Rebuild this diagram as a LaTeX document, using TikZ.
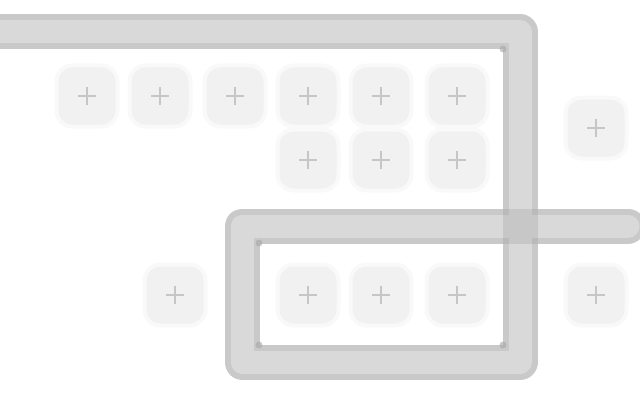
\documentclass[tikz,border=0pt]{standalone}
\usepackage{tikz}

\tikzset{
    tile/.style={rectangle, rounded corners=16pt, minimum size=61pt, inner sep=0pt,
        fill=gray!11, draw=gray!5, line width=4pt,
        path picture={
            \draw[gray!45, line width=1.4pt]
                ([xshift=-9pt]path picture bounding box.center) -- ([xshift=9pt]path picture bounding box.center)
                ([yshift=-9pt]path picture bounding box.center) -- ([yshift=9pt]path picture bounding box.center);
        }},
    rail/.style={line width=35pt, draw=gray!42, line cap=round, line join=round},
    railcore/.style={line width=23pt, draw=gray!30, line cap=round, line join=round},
    crossbox/.style={rectangle, minimum size=35pt, inner sep=0pt, fill=gray, opacity=0.2},
    nick/.style={circle, minimum size=7pt, inner sep=0pt, fill=gray!70, opacity=0.6},
}

\begin{document}
\begin{tikzpicture}[x=1pt, y=-1pt]
        \useasboundingbox (0,0) rectangle (640,420);

        \coordinate (w) at (-10,32);
        \coordinate (ne) at (520,32);
        \coordinate (se) at (520,362);
        \coordinate (sw) at (242,362);
        \coordinate (nw) at (242,226);
        \coordinate (e) at (628,226);

        \draw[rail] (w) -- (ne) -- (se) -- (sw) -- (nw) -- (e);
        \draw[railcore] (w) -- (ne) -- (se) -- (sw) -- (nw) -- (e);
        \node[crossbox] (x) at (520,226) {};

        % inner corners
        \node[nick] (k1) at (503,49) {};
        \node[nick] (k2) at (503,345) {};
        \node[nick] (k3) at (259,345) {};
        \node[nick] (k4) at (259,243) {};

        \node[tile] (a1) at (87,96) {};
        \node[tile] (a2) at (160,96) {};
        \node[tile] (a3) at (235,96) {};
        \node[tile] (a4) at (308,96) {};
        \node[tile] (a5) at (381,96) {};
        \node[tile] (a6) at (457,96) {};

        \node[tile] (b4) at (308,160) {};
        \node[tile] (b5) at (381,160) {};
        \node[tile] (b6) at (457,160) {};

        \node[tile] (c1) at (175,295) {};
        \node[tile] (c4) at (308,295) {};
        \node[tile] (c5) at (381,295) {};
        \node[tile] (c6) at (457,295) {};

        \node[tile] (r1) at (596,128) {};
        \node[tile] (r2) at (596,295) {};
    \end{tikzpicture}
\end{document}
